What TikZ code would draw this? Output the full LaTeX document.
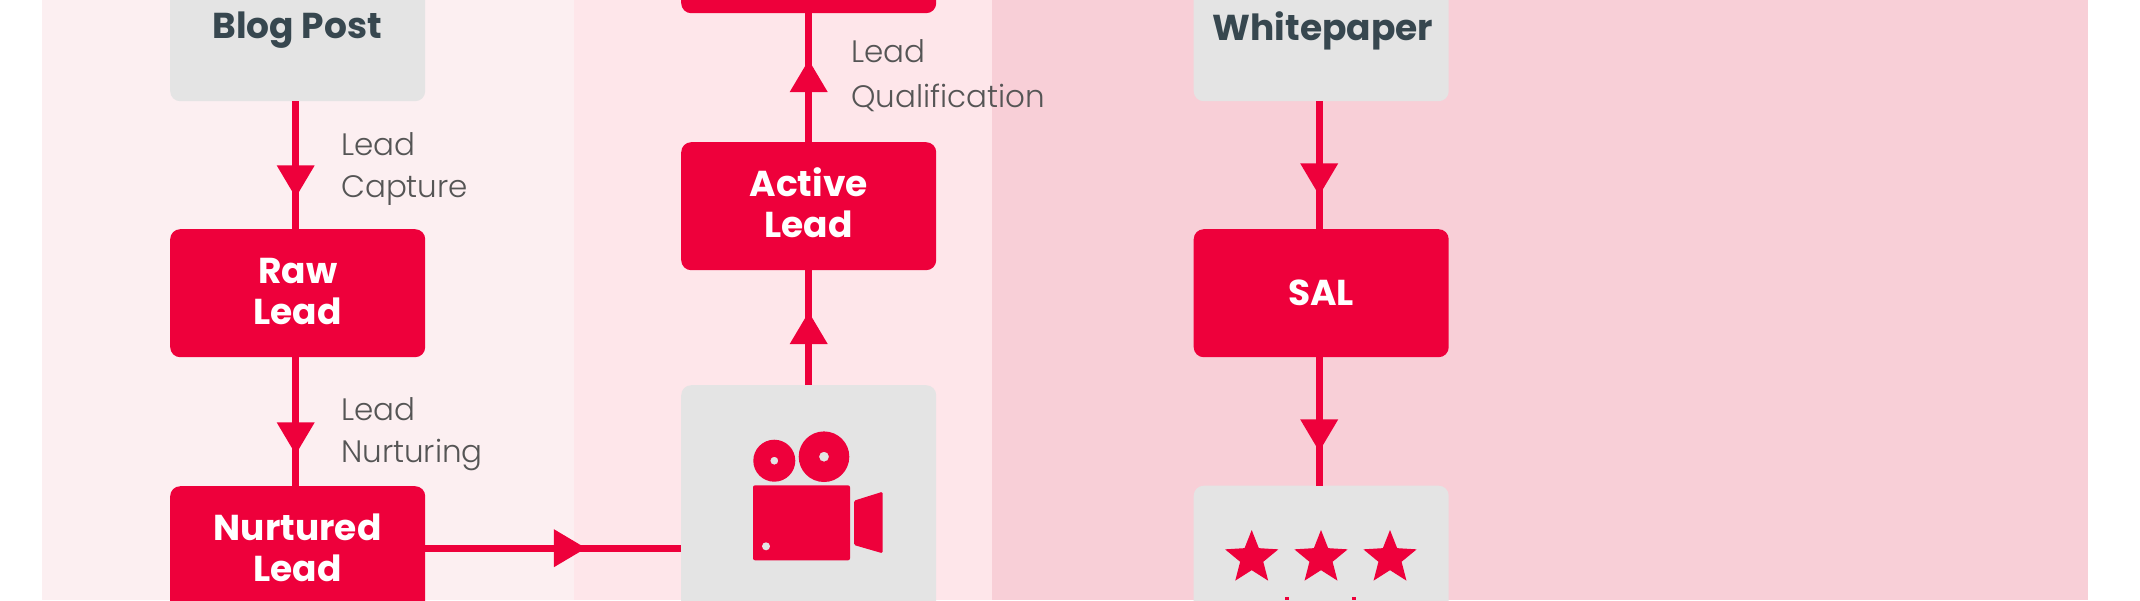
\documentclass[tikz,border=0pt]{standalone}
\usepackage{fontspec}
\setmainfont{Poppins}
\newfontfamily\lightfont{Poppins Light}
\usetikzlibrary{shapes.geometric,decorations.markings}
\definecolor{brandred}{HTML}{EE003B}
\definecolor{boxgrey}{HTML}{E4E4E4}
\definecolor{panelA}{HTML}{FCEFF1}
\definecolor{panelB}{HTML}{FEE6EA}
\definecolor{panelC}{HTML}{F8CFD7}
\definecolor{titleink}{HTML}{37474F}
\definecolor{noteink}{HTML}{555555}
\tikzset{
  x=1pt,y=-1pt,
  flowbox/.style={rectangle,rounded corners=10pt,inner sep=0pt,minimum width=255pt,anchor=north west},
  redbox/.style={flowbox,fill=brandred,text=white,minimum height=128pt,align=center,
    font=\bfseries\fontsize{36}{41}\selectfont},
  twolines/.style={text height=73pt,text depth=10pt},
  greybox/.style={flowbox,fill=boxgrey},
  boxtitle/.style={anchor=base,inner sep=0pt,text=titleink,font=\bfseries\fontsize{36}{41}\selectfont},
  note/.style={anchor=base west,inner sep=0pt,text=noteink,align=left,font=\lightfont\fontsize{31}{42}\selectfont},
  flow/.style={draw=brandred,line width=7pt,postaction={decorate},
    decoration={markings,mark=at position #1pt with {\fill[brandred] (0,-19)--(32,0)--(0,19)--cycle;}}},
  rating/.style={star,star points=5,star point ratio=2.3,fill=brandred,inner sep=0pt,minimum size=56pt}
}
\begin{document}
\begin{tikzpicture}
\useasboundingbox (0,0) rectangle (2140,600);
\clip (0,0) rectangle (2140,600);
\fill[white] (0,0) rectangle (2140,600);
\fill[panelA] (42,0) rectangle (574,600);
\fill[panelB] (574,0) rectangle (992,600);
\fill[panelC] (992,0) rectangle (2088,600);

% left column
\node[greybox,minimum height=161pt] (blog) at (170,-60) {};
\node[redbox,twolines] (raw) at (170,229) {Raw\\Lead};
\node[redbox,twolines] (nurtured) at (170,486) {Nurtured\\Lead};
% middle column
\node[redbox] (qualified) at (681,-115) {};
\node[redbox,twolines] (active) at (681,142) {Active\\Lead};
\node[greybox,minimum height=326pt] (video) at (681,385) {};
% right column
\node[greybox,minimum height=161pt] (paper) at (1193.5,-60) {};
\node[redbox] (sal) at (1193.5,229) {SAL};
\node[greybox,minimum height=326pt] (rated) at (1193.5,485.5) {};

\node[boxtitle] (blogtext) at (297,38) {Blog Post};
\node[boxtitle] (papertext) at (1323,40) {Whitepaper};

\draw[flow=64] ([xshift=-2pt]blog.south) -- ([xshift=-2pt]raw.north);
\draw[flow=65] ([xshift=-2pt]raw.south) -- ([xshift=-2pt]nurtured.north);
\draw[flow=128.5] (nurtured.east |- video.west) -- (video.west);
\draw[flow=41] (video.north) -- (active.south);
\draw[flow=50] (active.north) -- (qualified.south);
\draw[flow=62] ([xshift=-2pt]paper.south) -- ([xshift=-2pt]sal.north);
\draw[flow=62] ([xshift=-2pt]sal.south) -- ([xshift=-2pt]rated.north);

\node[note] (capture) at (341,197) {Lead\\Capture};
\node[note] (nurturing) at (341,462) {Lead\\Nurturing};
\node[note,font=\lightfont\fontsize{31}{45}\selectfont] (qualification) at (851,107) {Lead\\Qualification};

% camera icon
\fill[brandred,even odd rule] (774.3,460.7) circle (21) (774.3,460.7) circle (4);
\fill[brandred,even odd rule] (824,456.7) circle (25.3) (824,456.7) circle (5);
\fill[brandred,rounded corners=2pt] (753,485.3) rectangle (850,560.3);
\fill[boxgrey] (766,546.3) circle (4);
\fill[brandred,rounded corners=1.5pt] (854,500.7) -- (882.7,491.7) -- (882.7,553.3) -- (854,545) -- cycle;

% stars
\node[rating] (star1) at (1251.7,558) {};
\node[rating] (star2) at (1321,558) {};
\node[rating] (star3) at (1390,558) {};
\fill[brandred] (1285,597) rectangle (1289,600);
\fill[brandred] (1352,597) rectangle (1356,600);
\end{tikzpicture}
\end{document}
